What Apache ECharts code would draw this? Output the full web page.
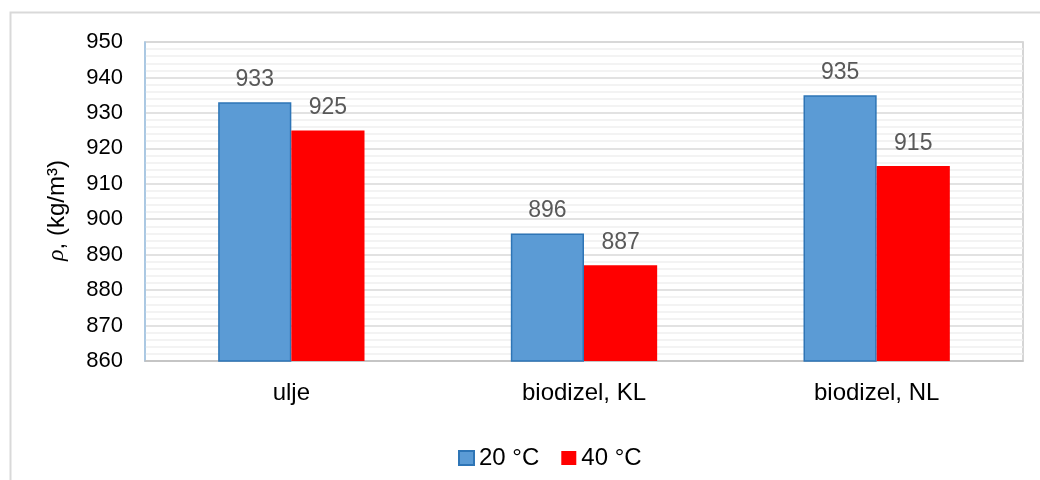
<!DOCTYPE html>
<html>
<head>
<meta charset="utf-8">
<script src="https://cdn.jsdelivr.net/npm/echarts@6/dist/echarts.min.js"></script>
<style>
  html, body { margin: 0; padding: 0; background: #fff; }
  #chart { width: 1040px; height: 480px; }
</style>
</head>
<body>
<div id="chart"></div>
<script>
// kategorije i vrijednosti gustoće
const categories = ["ulje", "biodizel, KL", "biodizel, NL"];
const rho20 = [933, 896, 935];
const rho40 = [925, 887, 915];
const seriesNames = ["20 °C", "40 °C"];

const chart = echarts.init(document.getElementById("chart"));

const labelStyle = {
  show: true,
  position: "top",
  distance: 11,
  fontFamily: "Liberation Sans",
  fontSize: 23,
  color: "#595959"
};

chart.setOption({
  animation: false,
  textStyle: { fontFamily: "Liberation Sans" },
  graphic: [
    {
      type: "rect",
      shape: { x: 10.5, y: 12.5, width: 1040, height: 480 },
      style: { fill: null, stroke: "#d9d9d9", lineWidth: 2 },
      silent: true
    }
  ],
  grid: {
    left: 145,
    right: 17,
    top: 42,
    bottom: 119,
    show: true,
    borderColor: "#c9c9c9",
    borderWidth: 1.5
  },
  legend: {
    data: seriesNames,
    left: 453,
    top: 441,
    icon: "rect",
    itemWidth: 15,
    itemHeight: 14,
    itemGap: 22,
    textStyle: { fontSize: 24, color: "#000", fontFamily: "Liberation Sans" }
  },
  xAxis: {
    type: "category",
    data: categories,
    axisTick: { show: false },
    axisLine: { lineStyle: { color: "#bfbfbf", width: 1.5 } },
    axisLabel: { fontSize: 24, color: "#000", margin: 20 }
  },
  yAxis: {
    type: "value",
    min: 860,
    max: 950,
    interval: 10,
    name: "{i|ρ}, (kg/m³)",
    nameLocation: "middle",
    nameGap: 76,
    nameRotate: 90,
    nameTextStyle: {
      fontSize: 24,
      color: "#000",
      padding: [0, 18, 0, 0],
      rich: {
        i: { fontStyle: "italic", fontSize: 24, fontFamily: "Liberation Serif" }
      }
    },
    axisLine: { show: true, lineStyle: { color: "#9dc3e6", width: 1.5 } },
    axisTick: { show: false },
    axisLabel: { fontSize: 22, color: "#000", margin: 22 },
    splitLine: { lineStyle: { color: "#d9d9d9", width: 1.5 } },
    minorTick: { show: false, splitNumber: 5 },
    minorSplitLine: { show: true, lineStyle: { color: "#efefef", width: 1.5 } }
  },
  series: [
    {
      name: seriesNames[0],
      type: "bar",
      data: rho20,
      barWidth: "25%",
      barGap: "0%",
      itemStyle: { color: "#5b9bd5", borderColor: "#2e75b6", borderWidth: 1.5 },
      label: labelStyle
    },
    {
      name: seriesNames[1],
      type: "bar",
      data: rho40,
      barWidth: "25%",
      barGap: "0%",
      itemStyle: { color: "#ff0000" },
      label: labelStyle
    }
  ]
});
</script>
</body>
</html>
